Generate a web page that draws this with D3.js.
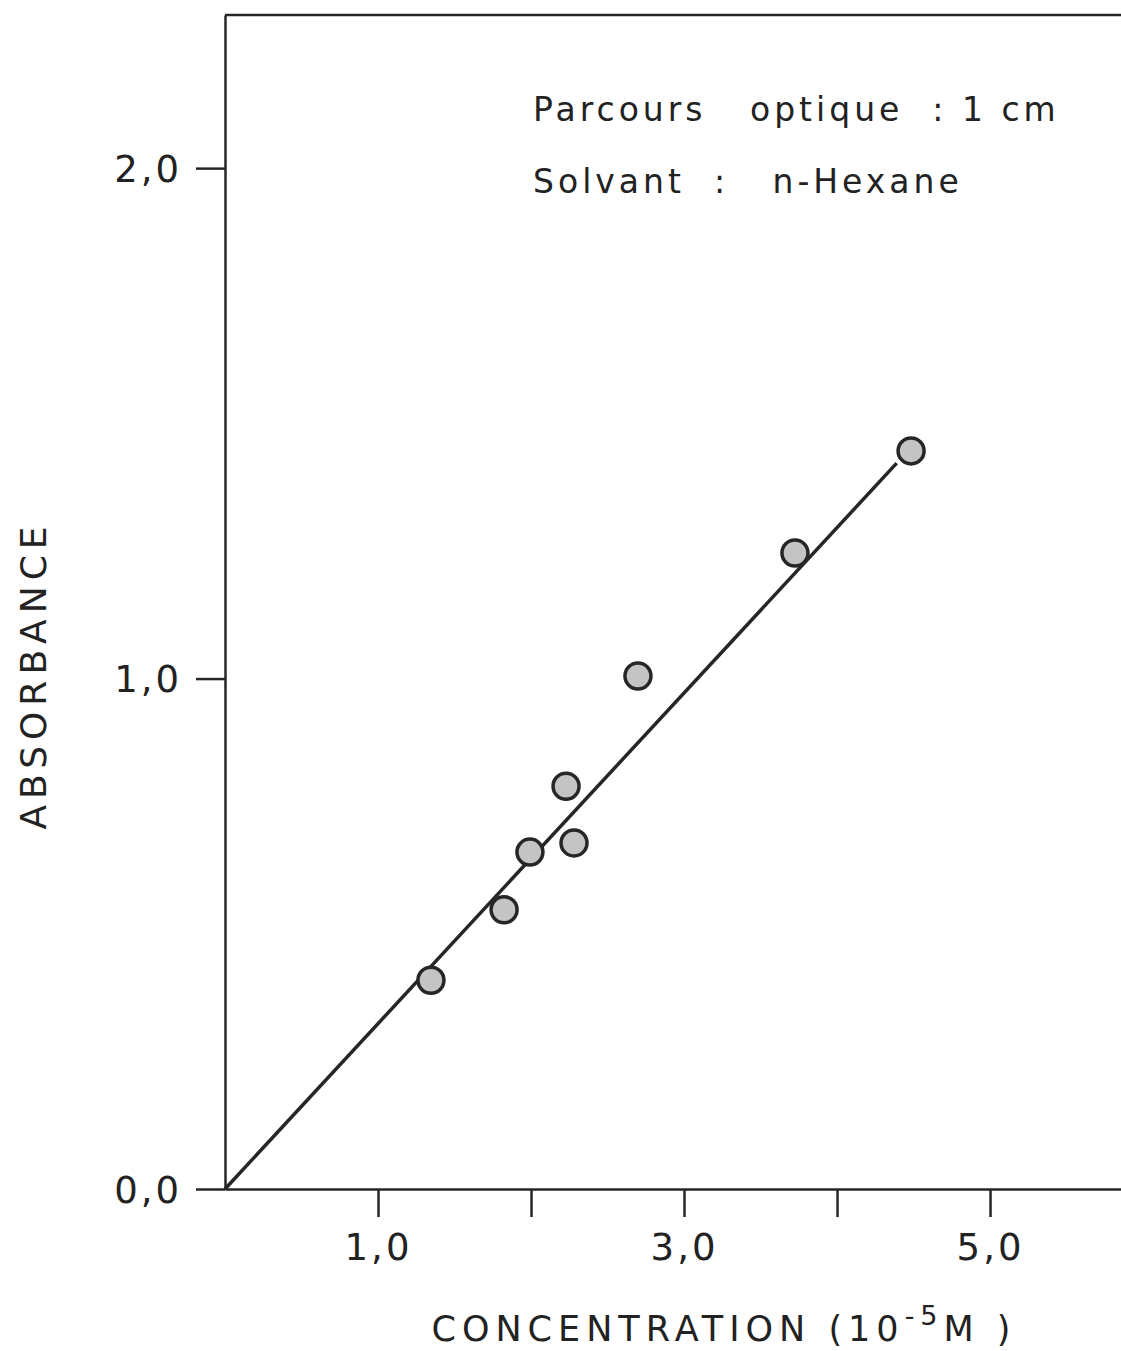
<!DOCTYPE html>
<html>
<head>
<meta charset="utf-8">
<script src="https://cdn.jsdelivr.net/npm/d3@7"></script>
<style>
  html, body { margin: 0; padding: 0; background: #fff; }
  svg { display: block; }
  text { fill: #222; }
</style>
</head>
<body>
<svg id="chart" width="1121" height="1351"></svg>
<script>
// Absorbance measured against concentration (n-hexane, 1 cm cell)
const concentration = [1.346, 1.824, 1.993, 2.229, 2.281, 2.699, 3.725, 4.484];
const absorbance    = [0.409, 0.547, 0.660, 0.789, 0.678, 1.005, 1.246, 1.446];

// Least-squares line through the origin, drawn from 0 to its end point
const fitConc = [0, 4.39];
const fitAbs  = [0, 1.422];

const xTicks = [1, 2, 3, 4, 5];
const xLabelled = [1, 3, 5];
const yTicks = [0, 1, 2];

const xTitle = "CONCENTRATION";
const yTitle = "ABSORBANCE";
const notes = ["Parcours   optique  : 1 cm", "Solvant  :   n-Hexane"];

const plotLeft = 225, plotTop = 15, plotBottom = 1189, plotRight = 1121;

const svg = d3.select("#chart");

const x = d3.scaleLinear().domain([0, 5.856]).range([plotLeft, plotRight]);
const y = d3.scaleLinear().domain([0, 2.3]).range([plotBottom, plotTop]);

const fr = d3.formatLocale({decimal: ",", thousands: " ", grouping: [3], currency: ["", ""]});
const fmt = fr.format(".1f");

const font = "'DejaVu Sans', sans-serif";
const ink = "#262626";

// y axis
const yAxis = svg.append("g")
  .attr("transform", `translate(${plotLeft},0)`)
  .call(d3.axisLeft(y).tickValues(yTicks).tickSize(29).tickSizeOuter(0).tickPadding(14).tickFormat(fmt));
yAxis.select(".domain").attr("stroke", ink).attr("stroke-width", 2.5);
yAxis.selectAll(".tick line").attr("stroke", ink).attr("stroke-width", 2.5);
yAxis.selectAll(".tick text")
  .attr("font-family", font).attr("font-size", 37).attr("letter-spacing", 3)
  .attr("fill", ink).attr("dy", "0.36em");

// x axis
const xAxis = svg.append("g")
  .attr("transform", `translate(0,${plotBottom})`)
  .call(d3.axisBottom(x).tickValues(xTicks).tickSize(28).tickSizeOuter(0).tickPadding(17)
    .tickFormat(d => xLabelled.includes(d) ? fmt(d) : ""));
xAxis.select(".domain").attr("stroke", ink).attr("stroke-width", 2.5);
xAxis.selectAll(".tick line").attr("stroke", ink).attr("stroke-width", 2.5);
xAxis.selectAll(".tick text")
  .attr("font-family", font).attr("font-size", 37).attr("letter-spacing", 3)
  .attr("fill", ink);

// top frame line
svg.append("line")
  .attr("x1", x(0)).attr("x2", x(x.domain()[1]))
  .attr("y1", y(y.domain()[1])).attr("y2", y(y.domain()[1]))
  .attr("stroke", ink).attr("stroke-width", 2.5);

// fitted line
const line = d3.line().x(d => x(d[0])).y(d => y(d[1]));
svg.append("path")
  .datum(d3.zip(fitConc, fitAbs))
  .attr("d", line)
  .attr("fill", "none").attr("stroke", ink).attr("stroke-width", 3.5);

// data points
svg.append("g").selectAll("circle")
  .data(d3.zip(concentration, absorbance))
  .join("circle")
  .attr("cx", d => x(d[0])).attr("cy", d => y(d[1]))
  .attr("r", 13)
  .attr("fill", "#c4c4c4")
  .attr("stroke", ink).attr("stroke-width", 3.5);

// axis titles
const xt = svg.append("text")
  .attr("x", 724).attr("y", 1341)
  .attr("text-anchor", "middle")
  .attr("font-family", font).attr("font-size", 35).attr("letter-spacing", 6)
  .attr("fill", ink);
xt.append("tspan").text(xTitle + " (10");
xt.append("tspan").attr("dy", -16).attr("font-size", 27).text("-5");
xt.append("tspan").attr("dy", 16).text("M )");

svg.append("text")
  .attr("transform", `translate(46,675) rotate(-90)`)
  .attr("text-anchor", "middle")
  .attr("font-family", font).attr("font-size", 36).attr("letter-spacing", 6)
  .attr("fill", ink)
  .text(yTitle);

// annotation
svg.append("g").selectAll("text")
  .data(notes)
  .join("text")
  .attr("x", 533).attr("y", (d, i) => 121 + i * 72)
  .attr("xml:space", "preserve")
  .style("white-space", "pre")
  .attr("font-family", font).attr("font-size", 33).attr("letter-spacing", 4)
  .attr("fill", ink)
  .text(d => d);
</script>
</body>
</html>
